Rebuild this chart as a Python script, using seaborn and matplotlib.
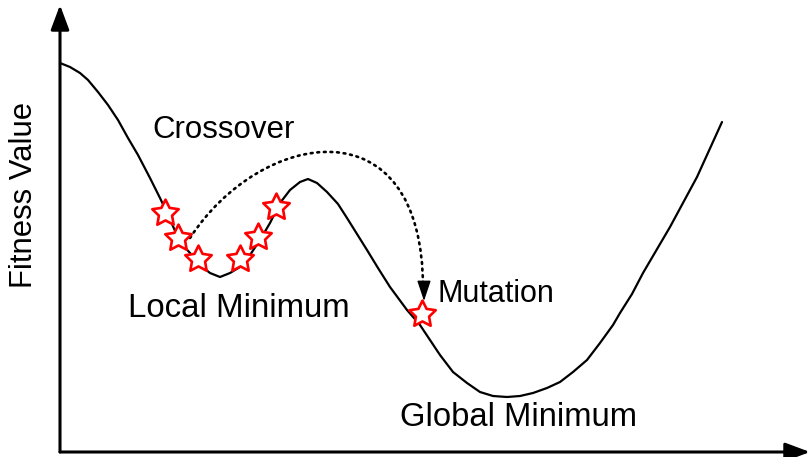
import matplotlib
matplotlib.use("Agg")
import matplotlib.pyplot as plt
from matplotlib.path import Path
from matplotlib.patches import PathPatch
import pandas as pd
import seaborn as sns

# fitness landscape (x position, fitness value)
curve_x = [0, 10, 20, 28, 38, 48, 58, 68, 78, 90, 100, 108, 120, 130, 140, 150,
           160, 170, 180, 190, 200, 210, 220, 230, 240, 248, 257, 267, 278, 287,
           297, 307, 318, 330, 347, 360, 370, 380, 393, 407, 420, 433, 447, 460,
           473, 487, 500, 513, 527, 540, 553, 560, 572, 583, 610, 637, 662]
curve_y = [387, 383, 377, 370, 358, 345, 330, 312, 295, 272, 252, 235, 208, 197,
           185, 177, 173, 177, 183, 195, 210, 227, 247, 260, 268, 271, 267, 258,
           246, 232, 216, 200, 182, 163, 140, 125, 110, 95, 78, 67, 58, 54, 53,
           54, 57, 62, 68, 78, 90, 107, 125, 137, 156, 177, 223, 273, 328]

# population members (stars)
pop_x = [105, 118, 138, 180, 198, 216, 362]
pop_y = [237, 212, 191, 191, 213, 243, 136]

curve = pd.DataFrame({"x": curve_x, "fitness": curve_y})
pop = pd.DataFrame({"x": pop_x, "fitness": pop_y})

sns.set_style("white")
plt.rcParams["font.family"] = ["Liberation Sans", "DejaVu Sans"]
plt.rcParams["text.color"] = "black"

fig = plt.figure(figsize=(8.11, 4.57), dpi=100)
ax = fig.add_axes([0, 0, 1, 1])

sns.lineplot(data=curve, x="x", y="fitness", ax=ax, color="black",
             linewidth=1.6, estimator=None, sort=False)
sns.scatterplot(data=pop, x="x", y="fitness", ax=ax, marker=(5, 1, 0),
                s=20 ** 2, facecolor="white", edgecolor="red",
                linewidth=1.9, zorder=5)

# axes with arrowheads
axis_style = dict(arrowstyle="-|>,head_length=0.75,head_width=0.28",
                  mutation_scale=20, lw=2.2, color="black",
                  shrinkA=0, shrinkB=0)
ax.annotate("", xy=(0, 445), xytext=(0, -2), arrowprops=axis_style)
ax.annotate("", xy=(750, -2), xytext=(0, -2), arrowprops=axis_style)

# crossover path (dotted) and mutation arrowhead
cross = Path([(130, 212), (200, 320), (363, 350), (363, 162)],
             [Path.MOVETO, Path.CURVE4, Path.CURVE4, Path.CURVE4])
ax.add_patch(PathPatch(cross, fill=False, lw=1.9, color="black",
                       linestyle=(0, (0.7, 1.8)), capstyle="round"))
ax.annotate("", xy=(364, 149), xytext=(364, 166),
            arrowprops=dict(arrowstyle="-|>,head_length=0.9,head_width=0.3",
                            mutation_scale=14, lw=1, color="black",
                            shrinkA=0, shrinkB=0))

ax.text(164, 312, "Crossover", fontsize=22.5, ha="center", va="baseline")
ax.text(179, 133, "Local Minimum", fontsize=23.8, ha="center", va="baseline")
ax.text(377, 148, "Mutation", fontsize=22, ha="left", va="baseline")
ax.text(458, 24, "Global Minimum", fontsize=23.6, ha="center", va="baseline")
ax.text(-36, 255, "Fitness Value", fontsize=22.3, rotation=90,
        ha="center", va="center")

ax.set_xlim(-60, 751)
ax.set_ylim(-7, 450)
ax.set_axis_off()

fig.savefig("out.png", dpi=100)
